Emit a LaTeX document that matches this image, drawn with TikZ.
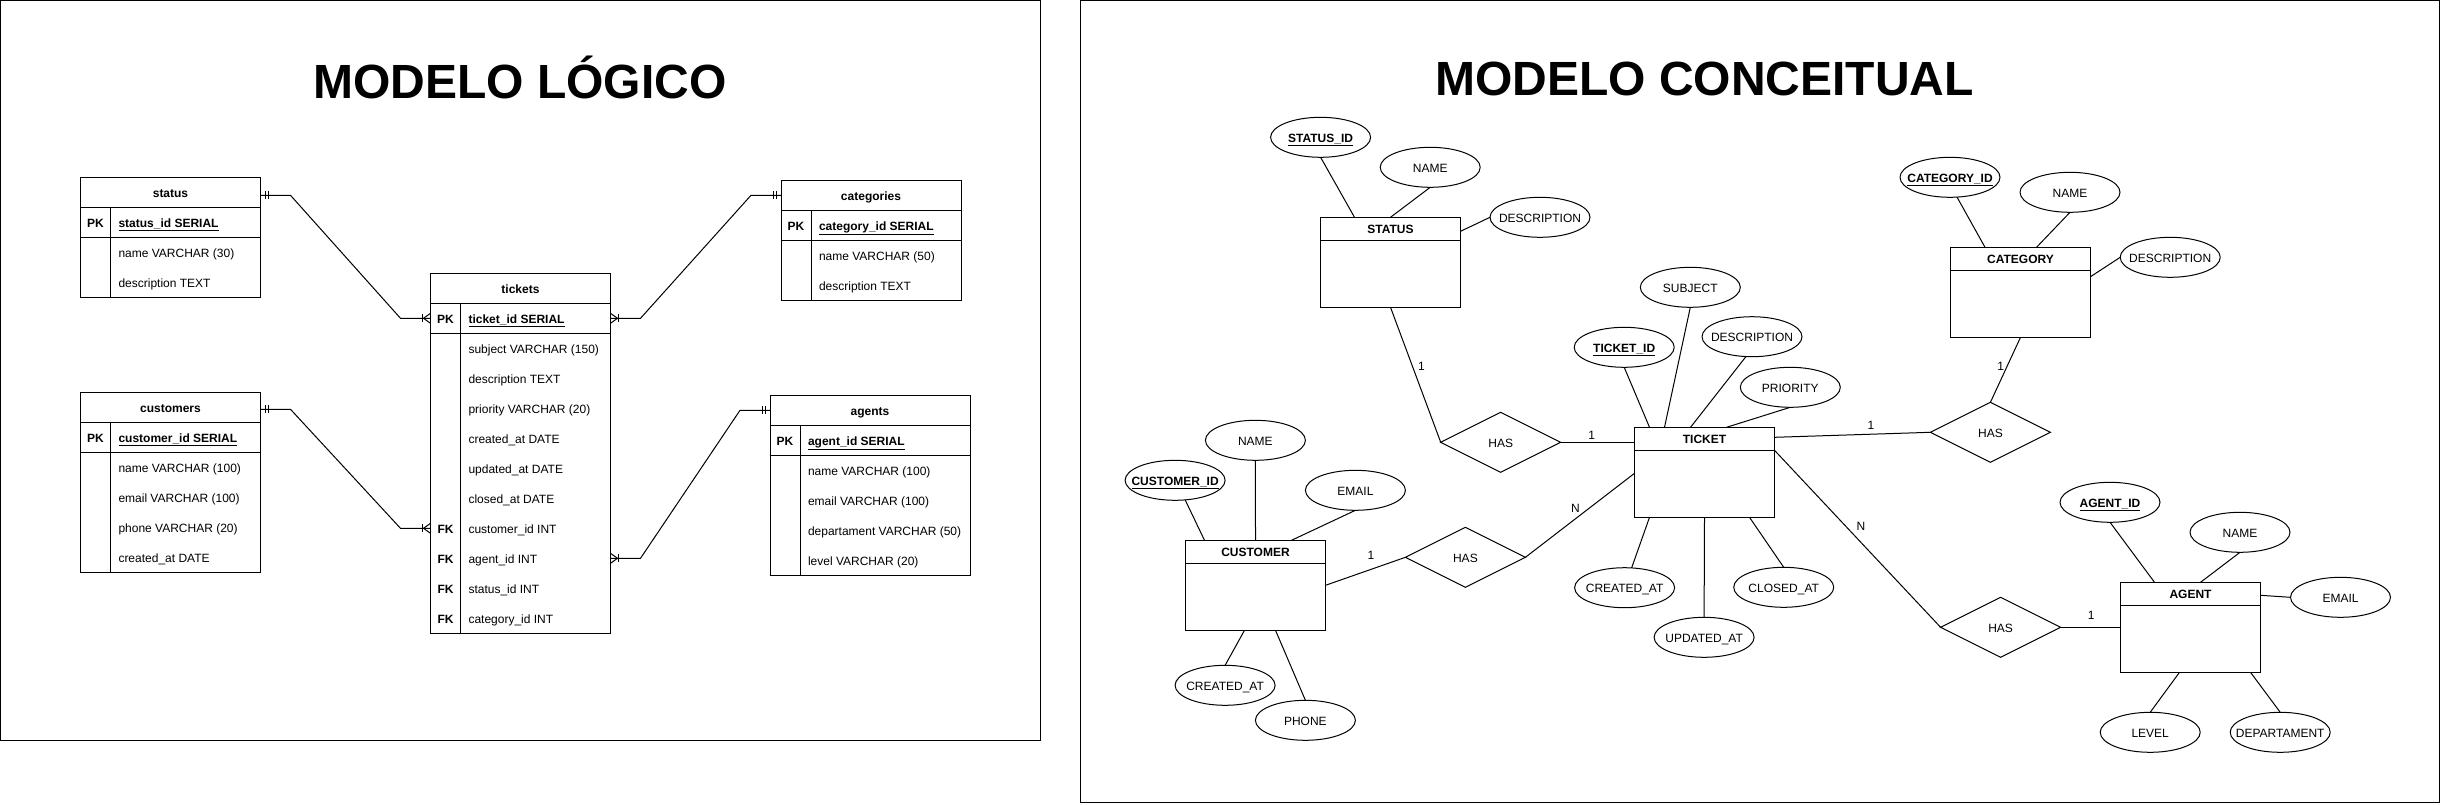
\documentclass[tikz,border=0pt]{standalone}
\usepackage{fontspec}
\setmainfont{Liberation Sans}
\usetikzlibrary{shapes.geometric,calc}

\newcommand{\attrtxt}[1]{\makebox[0pt]{#1}}
\newcommand{\keyattr}[1]{\makebox[0pt]{\bfseries\underline{#1}}}

% two bars (mandatory one) at point #1, direction #2 (+1 right, -1 left)
\newcommand{\mandone}[2]{%
  \draw ($(#1)+(#2*5,-4)$) -- ++(0,8);
  \draw ($(#1)+(#2*8,-4)$) -- ++(0,8);}
% bar + crow's foot (one to many) at point #1
\newcommand{\crowmany}[2]{%
  \draw ($(#1)+(#2*8,-4)$) -- ++(0,8);
  \draw ($(#1)+(0,-5)$) -- ($(#1)+(#2*7,0)$) -- ($(#1)+(0,5)$);}

% logical table: name, x, y, width, title, pk text, rows, nrows
\newcommand{\ertable}[8]{%
  \node[tabrow=#4, anchor=north west] (#1-h) at (#2,#3) {\bfseries #5};
  \node[tabrow=#4, anchor=north west] (#1-pk) at (#2,#3+30) {};
  \node[celltext] at (#2+15,#3+45) {\bfseries PK};
  \node[celltext, anchor=west] at (#2+38,#3+45) {\bfseries\underline{#6}};
  \foreach \kk/\ff [count=\ii] in {#7} {
    \node[tabrow=#4, anchor=north west] (#1-r\ii) at (#2,#3+30+30*\ii) {};
    \node[celltext] at (#2+15,#3+45+30*\ii) {\bfseries\kk};
    \node[celltext, anchor=west] at (#2+38,#3+45+30*\ii) {\ff};
  }
  \draw (#2,#3) rectangle (#2+#4,#3+60+30*#8);
  \draw (#2,#3+30) -- (#2+#4,#3+30);
  \draw (#2,#3+60) -- (#2+#4,#3+60);
  \draw (#2+30,#3+30) -- (#2+30,#3+60+30*#8);
}

% conceptual entity: name, x, y, title
\newcommand{\erentity}[4]{%
  \node[entitybox, anchor=north west] (#1) at (#2,#3) {};
  \node[celltext] (#1-t) at (#2+70,#3+11.5) {\bfseries #4};
  \draw (#2,#3+23) -- (#2+140,#3+23);}

\begin{document}
\begin{tikzpicture}[x=1pt,y=-1pt,
  font=\fontsize{12}{14.4}\selectfont,
  line width=1pt,
  celltext/.style={inner sep=0, outer sep=0, text height=9.6pt, text depth=0pt},
  tabrow/.style={minimum width=#1, minimum height=30, inner sep=0, outer sep=0, text height=9.6pt, text depth=0pt},
  entitybox/.style={draw, rectangle, minimum width=140, minimum height=90, inner sep=0, outer sep=0},
  attr/.style={draw, ellipse, minimum width=100, minimum height=40, inner sep=0, outer sep=0, text height=9.6pt, text depth=0pt},
  rel/.style={draw, diamond, minimum width=120, minimum height=60, inner sep=0, outer sep=0, text height=9.6pt, text depth=0pt},
  titletext/.style={font=\fontsize{48}{56}\selectfont\bfseries, anchor=base, inner sep=0}
]
\fill[white] (0,0) rectangle (2441,804);
\useasboundingbox (0,0) rectangle (2441,804);

% frames
\draw (0.5,0.5) rectangle (1040,740);
\draw (1080,0.5) rectangle (2439,802);

% titles
\node[titletext] (t1) at (520,98.3) {MODELO LÓGICO};
\node[titletext] (t2) at (1704.5,95) {MODELO CONCEITUAL};

% ===== logical model =====
\ertable{status}{80.5}{177.3}{180}{status}{status\_id SERIAL}{{}/name VARCHAR (30),{}/description TEXT}{2}
\ertable{categories}{781}{180.3}{180}{categories}{category\_id SERIAL}{{}/name VARCHAR (50),{}/description TEXT}{2}
\ertable{tickets}{430.5}{273.3}{180}{tickets}{ticket\_id SERIAL}{{}/subject VARCHAR (150),{}/description TEXT,{}/priority VARCHAR (20),{}/created\_at DATE,{}/updated\_at DATE,{}/closed\_at DATE,FK/customer\_id INT,FK/agent\_id INT,FK/status\_id INT,FK/category\_id INT}{10}
\ertable{customers}{80.5}{392.3}{180}{customers}{customer\_id SERIAL}{{}/name VARCHAR (100),{}/email VARCHAR (100),{}/phone VARCHAR (20),{}/created\_at DATE}{4}
\ertable{agents}{770}{395.3}{200}{agents}{agent\_id SERIAL}{{}/name VARCHAR (100),{}/email VARCHAR (100),{}/departament VARCHAR (50),{}/level VARCHAR (20)}{4}

% logical connectors
\coordinate (l1a) at ($(status-h.east)+(0,3)$);
\draw (l1a) -- ++(30,0) -- ($(tickets-pk.west)+(-30,0)$) -- (tickets-pk.west);
\mandone{l1a}{1}
\crowmany{tickets-pk.west}{-1}

\draw (categories-h.west) -- ++(-30,0) -- ($(tickets-pk.east)+(30,0)$) -- (tickets-pk.east);
\mandone{categories-h.west}{-1}
\crowmany{tickets-pk.east}{1}

\coordinate (l3a) at ($(customers-h.east)+(0,2)$);
\draw (l3a) -- ++(30,0) -- ($(tickets-r7.west)+(-30,0)$) -- (tickets-r7.west);
\mandone{l3a}{1}
\crowmany{tickets-r7.west}{-1}

\draw (agents-h.west) -- ++(-30,0) -- ($(tickets-r8.east)+(30,0)$) -- (tickets-r8.east);
\mandone{agents-h.west}{-1}
\crowmany{tickets-r8.east}{1}

% ===== conceptual model =====
\erentity{stE}{1320.5}{217.3}{STATUS}
\erentity{tkE}{1634.5}{427.3}{TICKET}
\erentity{cuE}{1185.5}{540.3}{CUSTOMER}
\erentity{caE}{1950.5}{247.3}{CATEGORY}
\erentity{agE}{2120.5}{582.3}{AGENT}

% attributes
\node[attr] (sid) at (1320.6,137.3) {\keyattr{STATUS\_ID}};
\node[attr] (sname) at (1430.2,167.3) {\attrtxt{NAME}};
\node[attr] (sdesc) at (1540,217.3) {\attrtxt{DESCRIPTION}};

\node[attr] (tid) at (1624.2,347.3) {\keyattr{TICKET\_ID}};
\node[attr] (tsubj) at (1690.3,287.3) {\attrtxt{SUBJECT}};
\node[attr] (tdesc) at (1752,336.7) {\attrtxt{DESCRIPTION}};
\node[attr] (tprio) at (1790.3,387.3) {\attrtxt{PRIORITY}};
\node[attr] (tcre) at (1624.6,587.7) {\attrtxt{CREATED\_AT}};
\node[attr] (tupd) at (1704.1,637.3) {\attrtxt{UPDATED\_AT}};
\node[attr] (tclo) at (1783.7,587.3) {\attrtxt{CLOSED\_AT}};

\node[attr] (cid) at (1175.1,480.3) {\keyattr{CUSTOMER\_ID}};
\node[attr] (cname) at (1255.4,440.3) {\attrtxt{NAME}};
\node[attr] (cemail) at (1355.4,490.3) {\attrtxt{EMAIL}};
\node[attr] (ccre) at (1225.1,685.3) {\attrtxt{CREATED\_AT}};
\node[attr] (cphone) at (1305.4,720.3) {\attrtxt{PHONE}};

\node[attr] (kid) at (1950,177.3) {\keyattr{CATEGORY\_ID}};
\node[attr] (kname) at (2070,192.3) {\attrtxt{NAME}};
\node[attr] (kdesc) at (2170.2,257.3) {\attrtxt{DESCRIPTION}};

\node[attr] (aid) at (2110,502.3) {\keyattr{AGENT\_ID}};
\node[attr] (aname) at (2240,532.3) {\attrtxt{NAME}};
\node[attr] (aemail) at (2340.5,597.3) {\attrtxt{EMAIL}};
\node[attr] (alevel) at (2150.2,732.3) {\attrtxt{LEVEL}};
\node[attr] (adept) at (2280.2,732.3) {\attrtxt{DEPARTAMENT}};

% relationships
\node[rel] (has1) at (1500.7,442.3) {\attrtxt{HAS}};
\node[rel] (has2) at (1465.4,557.3) {\attrtxt{HAS}};
\node[rel] (has3) at (1990.4,432.3) {\attrtxt{HAS}};
\node[rel] (has4) at (2000.6,627.3) {\attrtxt{HAS}};

% attribute links
\draw (sid.south) -- ($(stE.north west)+(34,0)$);
\draw (sname.south) -- (stE.north);
\draw (sdesc.west) -- ($(stE.north east)+(0,14)$);

\draw (tid.south) -- ($(tkE.north west)+(15,0)$);
\draw (tsubj.south) -- ($(tkE.north west)+(30,0)$);
\draw ($(tdesc.south)+(-6,-0.2)$) -- ($(tkE.north west)+(56,0)$);
\draw (tprio.south) -- ($(tkE.north west)+(92,0)$);
\draw ($(tkE.south west)+(15,0)$) -- ($(tcre.north)+(7,0.2)$);
\draw (tkE.south) -- (tupd.north);
\draw ($(tkE.south west)+(115,0)$) -- (tclo.north);

\draw ($(cid.south)+(10,-0.5)$) -- ($(cuE.north west)+(19,0)$);
\draw (cname.south) -- (cuE.north);
\draw (cemail.south) -- ($(cuE.north west)+(106,0)$);
\draw ($(cuE.south west)+(59,0)$) -- (ccre.north);
\draw ($(cuE.south west)+(90,0)$) -- (cphone.north);

\draw ($(kid.south)+(7,-0.2)$) -- ($(caE.north west)+(34.5,0)$);
\draw (kname.south) -- ($(caE.north west)+(86,0)$);
\draw (kdesc.west) -- ($(caE.north east)+(0,29.4)$);

\draw (aid.south) -- ($(agE.north west)+(34,0)$);
\draw (aname.south) -- ($(agE.north west)+(80,0)$);
\draw (aemail.west) -- ($(agE.north east)+(0,13)$);
\draw ($(agE.south west)+(59,0)$) -- (alevel.north);
\draw ($(agE.south west)+(130,0)$) -- (adept.north);

% relationship links
\draw (stE.south) -- (has1.west);
\draw (has1.east) -- ($(tkE.north west)+(0,15)$);
\draw ($(cuE.north east)+(0,45)$) -- (has2.west);
\draw (has2.east) -- ($(tkE.north west)+(0,46)$);
\draw ($(tkE.north east)+(0,10)$) -- (has3.west);
\draw (caE.south) -- (has3.north);
\draw ($(tkE.north east)+(0,23)$) -- (has4.west);
\draw (has4.east) -- ($(agE.north west)+(0,45)$);

% cardinality labels
\node[celltext] (c1) at (1421.5,365.7) {1};
\node[celltext] (c2) at (1591.6,435) {1};
\node[celltext] (c3) at (1575.5,507.3) {N};
\node[celltext] (c4) at (1371,555) {1};
\node[celltext] (c5) at (2000.6,365.7) {1};
\node[celltext] (c6) at (1871,425) {1};
\node[celltext] (c7) at (1861,526) {N};
\node[celltext] (c8) at (2091.1,615) {1};
\end{tikzpicture}
\end{document}
